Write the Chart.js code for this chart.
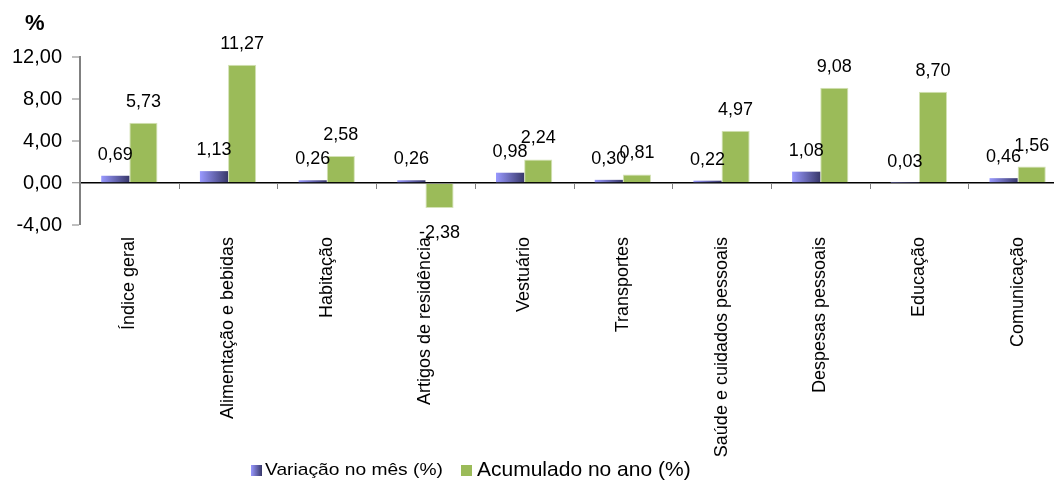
<!DOCTYPE html>
<html>
<head>
<meta charset="utf-8">
<script src="https://cdn.jsdelivr.net/npm/chart.js@4.4.0/dist/chart.umd.min.js"></script>
<style>
  html, body { margin: 0; padding: 0; background: #fff; overflow: hidden; width: 1054px; height: 488px; }
  #wrap { position: relative; width: 1070px; height: 488px; }
  #unit { position: absolute; left: 25px; top: 10px; font: bold 22px "Liberation Sans", Arial, sans-serif; color: #000; }
  .lg { position: absolute; font-family: "Liberation Sans", Arial, sans-serif; color: #000; white-space: nowrap; }
  .box { position: absolute; width: 11px; height: 11px; }
</style>
</head>
<body>
<div id="wrap">
  <canvas id="chart" width="1070" height="488"></canvas>
  <div id="unit">%</div>
  <div class="box" style="left:251px; top:465px; background: linear-gradient(to right, #9999ff, #38386a);"></div>
  <div class="lg" style="left:265px; top:460px; font-size:17px; transform: scaleX(1.13); transform-origin: left;">Variação no mês (%)</div>
  <div class="box" style="left:461px; top:465px; background:#9bbb59;"></div>
  <div class="lg" style="left:477px; top:457px; font-size:21px;">Acumulado no ano (%)</div>
</div>
<script>
const categories = ['Índice geral', 'Alimentação e bebidas', 'Habitação', 'Artigos de residência', 'Vestuário',
  'Transportes', 'Saúde e cuidados pessoais', 'Despesas pessoais', 'Educação', 'Comunicação'];
const variacaoMes = [0.69, 1.13, 0.26, 0.26, 0.98, 0.30, 0.22, 1.08, 0.03, 0.46];
const acumuladoAno = [5.73, 11.27, 2.58, -2.38, 2.24, 0.81, 4.97, 9.08, 8.70, 1.56];
const yTicks = [-4, 0, 4, 8, 12];

const FONT = '"Liberation Sans", Arial, sans-serif';

function fmt(v) {
    return v.toFixed(2).replace('.', ',');
}

// horizontal gradient on the purple bars
const gradientBars = {
    id: 'gradientBars',
    beforeDatasetsDraw(chart) {
        const meta = chart.getDatasetMeta(0);
        meta.data.forEach(function(el) {
            const x0 = el.x - el.width / 2;
            const g = chart.ctx.createLinearGradient(x0, 0, x0 + el.width, 0);
            g.addColorStop(0, '#9999ff');
            g.addColorStop(1, '#38386a');
            el.options = Object.assign({}, el.options, { backgroundColor: g });
        });
    }
};

// value labels above / below bars
const valueLabels = {
    id: 'valueLabels',
    afterDatasetsDraw(chart) {
        const ctx = chart.ctx;
        ctx.save();
        ctx.font = '18px ' + FONT;
        ctx.fillStyle = '#000';
        ctx.textAlign = 'center';
        chart.data.datasets.forEach(function(ds, di) {
            chart.getDatasetMeta(di).data.forEach(function(el, i) {
                const v = ds.data[i];
                if (v >= 0) {
                    ctx.textBaseline = 'bottom';
                    ctx.fillText(fmt(v), el.x, el.y - 12);
                } else {
                    ctx.textBaseline = 'top';
                    ctx.fillText(fmt(v), el.x, el.y + 16);
                }
            });
        });
        ctx.restore();
    }
};

// small category separator ticks hanging from the zero line
const categoryTicks = {
    id: 'categoryTicks',
    afterDatasetsDraw(chart) {
        const xs = chart.scales.x, ys = chart.scales.y;
        const y0 = ys.getPixelForValue(0);
        const ctx = chart.ctx;
        ctx.save();
        ctx.strokeStyle = '#808080';
        ctx.lineWidth = 1;
        for (let i = 1; i < categories.length; i++) {
            const x = Math.round(xs.getPixelForValue(i - 0.5)) + 0.5;
            ctx.beginPath();
            ctx.moveTo(x, y0);
            ctx.lineTo(x, y0 + 6);
            ctx.stroke();
        }
        ctx.restore();
    }
};

new Chart(document.getElementById('chart'), {
    type: 'bar',
    data: {
        labels: categories,
        datasets: [{
            label: 'Variação no mês (%)',
            data: variacaoMes,
            backgroundColor: '#6b6bb8',
            borderWidth: 0
        }, {
            label: 'Acumulado no ano (%)',
            data: acumuladoAno,
            backgroundColor: '#9bbb59',
            borderColor: '#d4e2b6',
            borderWidth: 1
        }]
    },
    options: {
        responsive: false,
        animation: false,
        datasets: {
            bar: {
                categoryPercentage: 0.57,
                barPercentage: 1
            }
        },
        layout: {
            padding: { left: 0, right: 3, top: 57, bottom: 8 }
        },
        plugins: {
            legend: { display: false },
            tooltip: { enabled: false }
        },
        scales: {
            x: {
                grid: { display: false },
                border: { display: false },
                ticks: {
                    color: '#000',
                    font: { family: FONT, size: 18 },
                    minRotation: 90,
                    maxRotation: 90,
                    autoSkip: false,
                    padding: 4
                },
                afterFit: function(scale) {
                    scale.height = 255;
                }
            },
            y: {
                min: -4,
                max: 12,
                afterBuildTicks: function(scale) {
                    scale.ticks = yTicks.map(function(v) { return { value: v }; });
                },
                border: { display: true, color: '#808080', width: 2 },
                grid: {
                    drawOnChartArea: true,
                    color: function(c) { return c.tick && c.tick.value === 0 ? '#000' : 'rgba(0,0,0,0)'; },
                    lineWidth: function(c) { return c.tick && c.tick.value === 0 ? 1.5 : 0; },
                    tickColor: '#808080',
                    tickLength: 8,
                    tickWidth: 1
                },
                ticks: {
                    color: '#000',
                    font: { family: FONT, size: 20 },
                    padding: 10,
                    callback: function(v) { return fmt(v); }
                },
                afterFit: function(scale) {
                    scale.width = 80;
                }
            }
        }
    },
    plugins: [gradientBars, valueLabels, categoryTicks]
});
</script>
</body>
</html>
